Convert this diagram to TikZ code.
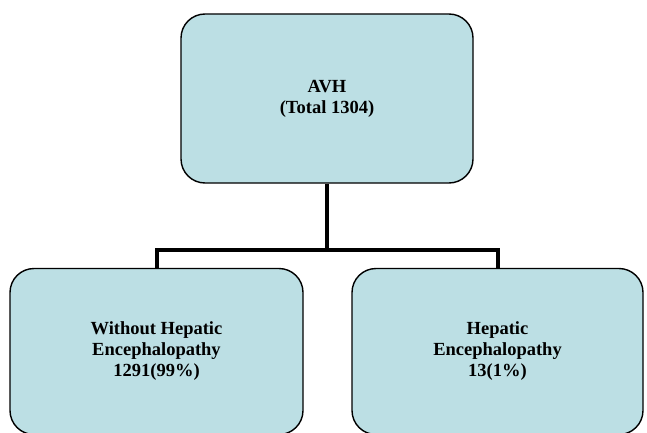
\documentclass[tikz,border=0pt]{standalone}
\usepackage{fontspec}
\setmainfont{Liberation Serif}
\definecolor{boxfill}{RGB}{188,223,228}
\begin{document}
\begin{tikzpicture}[x=1pt,y=-1pt,
  box/.style={draw=black,line width=1.4pt,fill=boxfill,rounded corners=24pt,
    align=center,inner sep=0pt,font=\fontsize{18.5}{21}\selectfont\bfseries},
  conn/.style={draw=black,line width=4pt,line join=miter,line cap=butt}]
\useasboundingbox (0,0) rectangle (647,433);
\node[box,minimum width=292pt,minimum height=169pt] (top) at (327,98.5) {AVH\\(Total 1304)};
\node[box,minimum width=293pt,minimum height=166pt] (left) at (156.5,351.5) {Without Hepatic\\Encephalopathy\\1291(99\%)};
\node[box,minimum width=291pt,minimum height=166pt] (right) at (497.5,351.5) {Hepatic\\Encephalopathy\\13(1\%)};
\coordinate (j) at (327,249.5);
\draw[conn] (top.south) -- (j);
\draw[conn] (left.north) |- (j) -| (right.north);
\end{tikzpicture}
\end{document}
